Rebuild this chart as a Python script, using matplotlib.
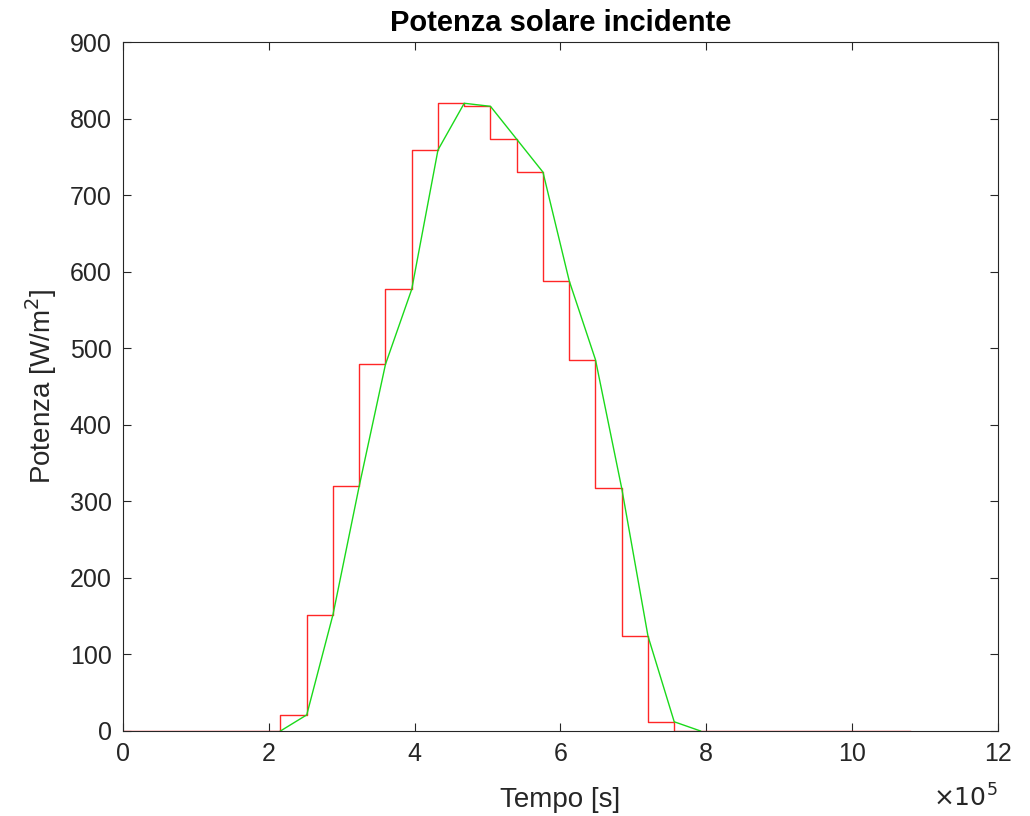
import matplotlib
matplotlib.use("Agg")
import matplotlib.pyplot as plt

# Tempo (unita di 1e5 s) - bordi dei gradini
t_step = [0.00, 0.36, 0.72, 1.08, 1.44, 1.80, 2.16, 2.52, 2.88, 3.24, 3.60,
          3.96, 4.32, 4.68, 5.04, 5.40, 5.76, 6.12, 6.48, 6.84, 7.20,
          7.56, 7.92, 8.28, 8.64, 9.00, 9.36, 9.72, 10.08, 10.44, 10.80]
# Potenza a gradini [W/m^2]
p_step = [0, 0, 0, 0, 0, 0, 21, 152, 320, 479, 577,
          759, 820, 816, 773, 730, 588, 485, 317, 124, 12,
          0, 0, 0, 0, 0, 0, 0, 0, 0]

# Interpolazione lineare
t_lin = [2.16, 2.52, 2.88, 3.24, 3.60, 3.96, 4.32, 4.68, 5.04,
         5.40, 5.76, 6.12, 6.48, 6.84, 7.20, 7.56, 7.92]
p_lin = [0, 21, 152, 320, 479, 577, 759, 820, 816,
         773, 730, 588, 485, 317, 124, 12, 0]

plt.rcParams['font.family'] = ['Liberation Sans', 'DejaVu Sans']

fig = plt.figure(figsize=(10.3, 8.16), dpi=100)
ax = fig.add_axes([0.1194, 0.1042, 0.8495, 0.8443])

ax.step([x * 1e5 for x in t_step], p_step + [p_step[-1]], where='post',
        color=(1.0, 0.15, 0.15), lw=1.0)
ax.plot([x * 1e5 for x in t_lin], p_lin, color=(0.1, 0.85, 0.1), lw=1.0)

ax.set_xlim(0, 12e5)
ax.set_ylim(0, 900)
ax.set_xticks([0, 2e5, 4e5, 6e5, 8e5, 10e5, 12e5])
ax.set_xticklabels(['0', '2', '4', '6', '8', '10', '12'])
ax.set_yticks(range(0, 901, 100))

ax.tick_params(direction='in', top=True, right=True, length=6, width=0.8,
               labelsize=18, colors='#262626', pad=8)
for s in ax.spines.values():
    s.set_color('#262626')
    s.set_linewidth(0.8)

ax.set_title('Potenza solare incidente', fontsize=21, fontweight='bold', pad=8)
ax.set_xlabel('Tempo [s]', fontsize=20, color='#262626', labelpad=15)
ax.set_ylabel('Potenza [W/m$^2$]', fontsize=20, color='#262626', labelpad=8)
fig.text(0.937, 0.012, r'$\times10^{5}$', fontsize=18, color='#262626', ha='center')

fig.savefig('out.png', dpi=100)
